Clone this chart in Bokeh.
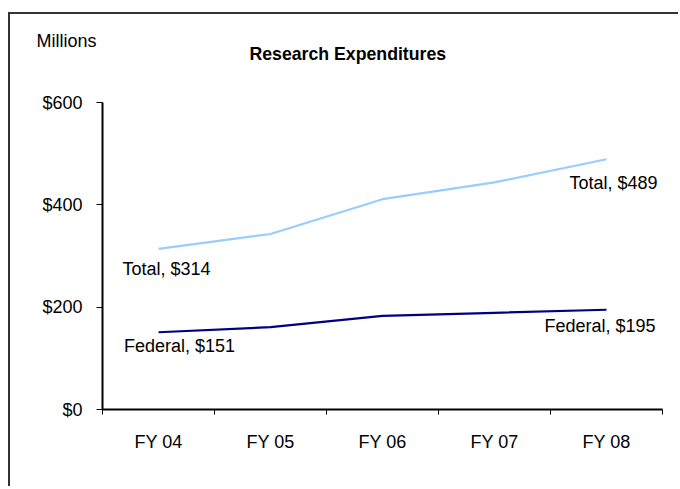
from bokeh.plotting import figure
from bokeh.models import (Range1d, LinearAxis, FixedTicker,
                          NumeralTickFormatter, Title, ColumnDataSource)
from bokeh.core.properties import value
from bokeh.embed import file_html
from bokeh.resources import INLINE

categories = ["FY 04", "FY 05", "FY 06", "FY 07", "FY 08"]
total = [314, 343, 411, 444, 489]
federal = [151, 161, 183, 189, 195]
y_ticks = [0, 200, 400, 600]
title_text = "Research Expenditures"
unit_text = "Millions"

FONT = "Liberation Sans"

n = len(categories)
xpos = [i + 0.5 for i in range(n)]  # category centres

p = figure(width=678, height=486, x_range=Range1d(0, n),
           y_range=Range1d(0, 600), output_backend="svg", toolbar_location=None,
           x_axis_location=None, min_border_left=102, min_border_right=16,
           min_border_top=102, min_border_bottom=77)
# chart frame lines (top and left) drawn behind a transparent border area
p.border_fill_color = None
p.background_fill_color = "white"
p.styles = {
    "background-image": "linear-gradient(#333, #333), linear-gradient(#333, #333)",
    "background-size": "100% 2px, 2px 100%",
    "background-position": "8px 12px, 8px 12px",
    "background-repeat": "no-repeat",
}
p.outline_line_color = None
p.xgrid.visible = False
p.ygrid.visible = False

# y axis
ya = p.yaxis[0]
ya.ticker = FixedTicker(ticks=y_ticks)
ya.formatter = NumeralTickFormatter(format="$0")
ya.axis_line_width = 2
ya.axis_line_color = "black"
ya.major_tick_out = 6
ya.major_tick_in = 0
ya.minor_tick_line_color = None
ya.major_label_standoff = 14
ya.major_label_text_font = FONT
ya.major_label_text_font_size = "18px"
ya.major_label_text_color = "black"

# x axis: ticks at category edges
edge_ticks = list(range(n + 1))
xa1 = LinearAxis(ticker=FixedTicker(ticks=edge_ticks),
                 major_label_overrides={t: "" for t in edge_ticks})
xa1.axis_line_width = 2
xa1.axis_line_color = "black"
xa1.major_tick_out = 5
xa1.major_tick_in = 0
xa1.minor_tick_line_color = None
xa1.major_label_standoff = 0
xa1.major_label_text_font_size = "1px"
p.add_layout(xa1, "below")

# x axis: category labels at centres
xa2 = LinearAxis(ticker=FixedTicker(ticks=xpos),
                 major_label_overrides={x: c for x, c in zip(xpos, categories)})
xa2.axis_line_color = None
xa2.major_tick_line_color = None
xa2.minor_tick_line_color = None
xa2.major_label_standoff = 11
xa2.major_label_text_font = FONT
xa2.major_label_text_font_size = "18px"
xa2.major_label_text_color = "black"
p.add_layout(xa2, "below")

# lines
p.line(xpos, total, line_color="#99CCFF", line_width=2.2)
p.line(xpos, federal, line_color="#000080", line_width=2.2)

# end labels
src = ColumnDataSource(dict(
    x=[xpos[0], xpos[-1], xpos[0], xpos[-1]],
    y=[total[0], total[-1], federal[0], federal[-1]],
    text=[f"Total, ${total[0]}", f"Total, ${total[-1]}",
          f"Federal, ${federal[0]}", f"Federal, ${federal[-1]}"],
    xo=[8, 51, 21, 49],
    yo=[20, 24, 14, 16],
    align=["center", "right", "center", "right"],
))
p.text(x="x", y="y", text="text", x_offset="xo", y_offset="yo", text_align="align",
       text_baseline="middle", text_font=value(FONT), text_font_size="18px",
       text_color="black", source=src)

p.add_layout(Title(text=title_text, align="left", offset=147, standoff=78,
                   text_font=FONT, text_font_size="17.7px", text_font_style="bold",
                   text_color="black"), "above")
p.add_layout(Title(text=unit_text, align="left", offset=-66, standoff=-97,
                   text_font=FONT, text_font_size="18px", text_font_style="normal",
                   text_color="black"), "above")

open("out.html", "w").write(file_html(p, INLINE))
